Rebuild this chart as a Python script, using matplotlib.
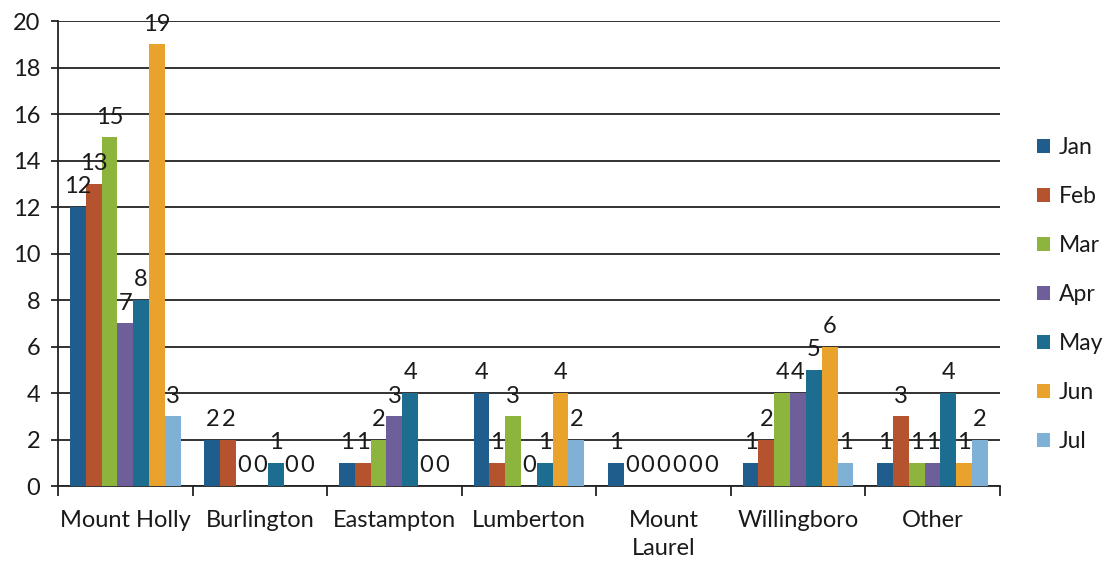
import numpy as np
import matplotlib
matplotlib.use("Agg")
import matplotlib.pyplot as plt
from matplotlib.patches import Patch

# Monthly counts by town
towns = ["Mount Holly", "Burlington", "Eastampton", "Lumberton",
         "Mount\nLaurel", "Willingboro", "Other"]
months = ["Jan", "Feb", "Mar", "Apr", "May", "Jun", "Jul"]

jan = [12, 2, 1, 4, 1, 1, 1]
feb = [13, 2, 1, 1, 0, 2, 3]
mar = [15, 0, 2, 3, 0, 4, 1]
apr = [7, 0, 3, 0, 0, 4, 1]
may = [8, 1, 4, 1, 0, 5, 4]
jun = [19, 0, 0, 4, 0, 6, 1]
jul = [3, 0, 0, 2, 0, 1, 2]

series = [jan, feb, mar, apr, may, jun, jul]
colors = ["#1f5e8c", "#b5532f", "#8db43c", "#6e5e9a", "#1c6d8f",
          "#e9a22b", "#7fb1d6"]

y_ticks = list(range(0, 21, 2))

plt.rcParams["font.family"] = ["Lato", "DejaVu Sans"]

fig = plt.figure(figsize=(11.17, 5.72), dpi=100)
ax = fig.add_axes([0.052, 0.150, 0.843, 0.813])

n_series = len(series)
group = 7 / 8.5          # Excel-style gap width of 150%
w = group / n_series
x = np.arange(len(towns))

for i, (vals, col, name) in enumerate(zip(series, colors, months)):
    offs = (i - (n_series - 1) / 2) * w
    bars = ax.bar(x + offs, vals, width=w, color=col, label=name,
                  zorder=3, linewidth=0)
    ax.bar_label(bars, labels=[str(v) for v in vals], padding=7,
                 fontsize=17, color="#1a1a1a", zorder=4)

ax.set_xlim(-0.5, len(towns) - 0.5)
ax.set_ylim(0, 20)
ax.set_yticks(y_ticks)
ax.tick_params(axis="y", labelsize=17, length=5, width=1.3,
               color="#222222", labelcolor="#1a1a1a", pad=8)
ax.yaxis.grid(True, color="#222222", linewidth=1.3, zorder=0)

# category boundaries carry the tick marks, names sit at centres
ax.set_xticks(np.arange(-0.5, len(towns), 1.0))
ax.set_xticklabels([])
ax.tick_params(axis="x", which="major", length=7, width=1.3,
               color="#222222", direction="out")
ax.set_xticks(x, minor=True)
ax.set_xticklabels(towns, minor=True, fontsize=17, color="#1a1a1a",
                   va="top", linespacing=1.45)
ax.tick_params(axis="x", which="minor", length=0, pad=17)

for side in ("top", "right"):
    ax.spines[side].set_visible(False)
for side in ("left", "bottom"):
    ax.spines[side].set_color("#222222")
    ax.spines[side].set_linewidth(1.3)

handles = [Patch(facecolor=c, label=m) for c, m in zip(colors, months)]
fig.legend(handles=handles, loc="center left",
           bbox_to_anchor=(0.91, 0.485), frameon=False, fontsize=16.5,
           handlelength=0.55, handleheight=0.55, handletextpad=0.4,
           labelspacing=1.22, labelcolor="#1a1a1a")

fig.savefig("out.png", dpi=100, facecolor="white")
